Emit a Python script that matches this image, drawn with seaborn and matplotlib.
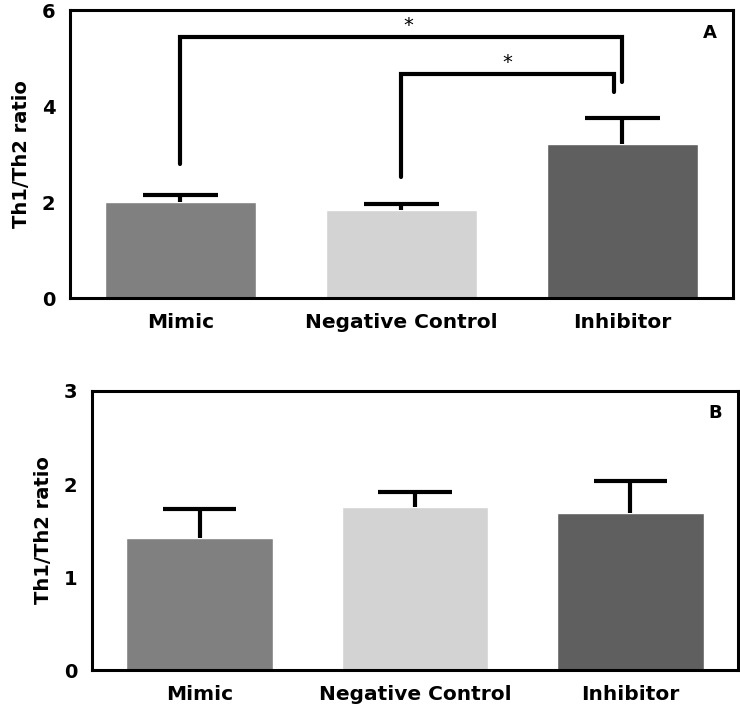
import matplotlib
matplotlib.use("Agg")
import matplotlib.pyplot as plt
import seaborn as sns
import pandas as pd

# Data
groups = ["Mimic", "Negative Control", "Inhibitor"]
colors = ["#808080", "#d3d3d3", "#5f5f5f"]

ratio_a = [2.0, 1.83, 3.2]
err_a = [0.15, 0.13, 0.55]

ratio_b = [1.42, 1.75, 1.69]
err_b = [0.31, 0.16, 0.34]

sns.set_style("white", {"axes.grid": False})
plt.rcParams["font.family"] = ["DejaVu Sans"]
plt.rcParams["font.weight"] = "bold"
plt.rcParams["text.color"] = "black"
plt.rcParams["axes.labelcolor"] = "black"
plt.rcParams["xtick.color"] = "black"
plt.rcParams["ytick.color"] = "black"

fig = plt.figure(figsize=(7.4, 7.05), dpi=100)
ax_a = fig.add_axes([0.0946, 0.5773, 0.8959, 0.4085])
ax_b = fig.add_axes([0.1243, 0.0496, 0.8730, 0.3958])


def draw_panel(ax, values, errors, ymax, step, letter):
    df = pd.DataFrame({"group": groups, "ratio": values})
    sns.barplot(data=df, x="group", y="ratio", hue="group", palette=colors,
                width=0.68, legend=False, ax=ax, zorder=2)
    # one-sided (upper) error bars
    xs = range(len(values))
    tops = [v + e for v, e in zip(values, errors)]
    ax.vlines(xs, values, tops, color="black", lw=3, zorder=3)
    ax.hlines(tops, [x - 0.17 for x in xs], [x + 0.17 for x in xs],
              color="black", lw=3, zorder=3)
    ax.set_xlim(-0.5, 2.5)
    ax.set_ylim(0, ymax)
    ax.set_yticks([i * step for i in range(int(ymax / step) + 1)])
    ax.set_xlabel("")
    ax.set_ylabel("Th1/Th2 ratio", fontsize=14, fontweight="bold", labelpad=8)
    for s in ax.spines.values():
        s.set_linewidth(2.2)
        s.set_color("black")
    ax.tick_params(axis="both", direction="out", length=7, width=2.2,
                   color="black", labelcolor="black", labelsize=14)
    ax.tick_params(axis="x", labelsize=14.5, pad=4)
    for lab in ax.get_xticklabels() + ax.get_yticklabels():
        lab.set_fontweight("bold")
    ax.text(0.975, 0.92, letter, transform=ax.transAxes, ha="right",
            va="center", fontsize=13, fontweight="bold")


draw_panel(ax_a, ratio_a, err_a, 6, 2, "A")
draw_panel(ax_b, ratio_b, err_b, 3, 1, "B")

# significance brackets in panel A
ax_a.plot([0, 0, 2, 2], [2.8, 5.44, 5.44, 4.5], color="black", lw=3,
          solid_joinstyle="miter", zorder=4)
ax_a.text(1.03, 5.47, "*", ha="center", va="bottom", fontsize=14,
          fontweight="normal")
ax_a.plot([1, 1, 1.96, 1.96], [2.52, 4.67, 4.67, 4.3], color="black", lw=3,
          solid_joinstyle="miter", zorder=4)
ax_a.text(1.48, 4.7, "*", ha="center", va="bottom", fontsize=14,
          fontweight="normal")

fig.savefig("out.png", dpi=100)
